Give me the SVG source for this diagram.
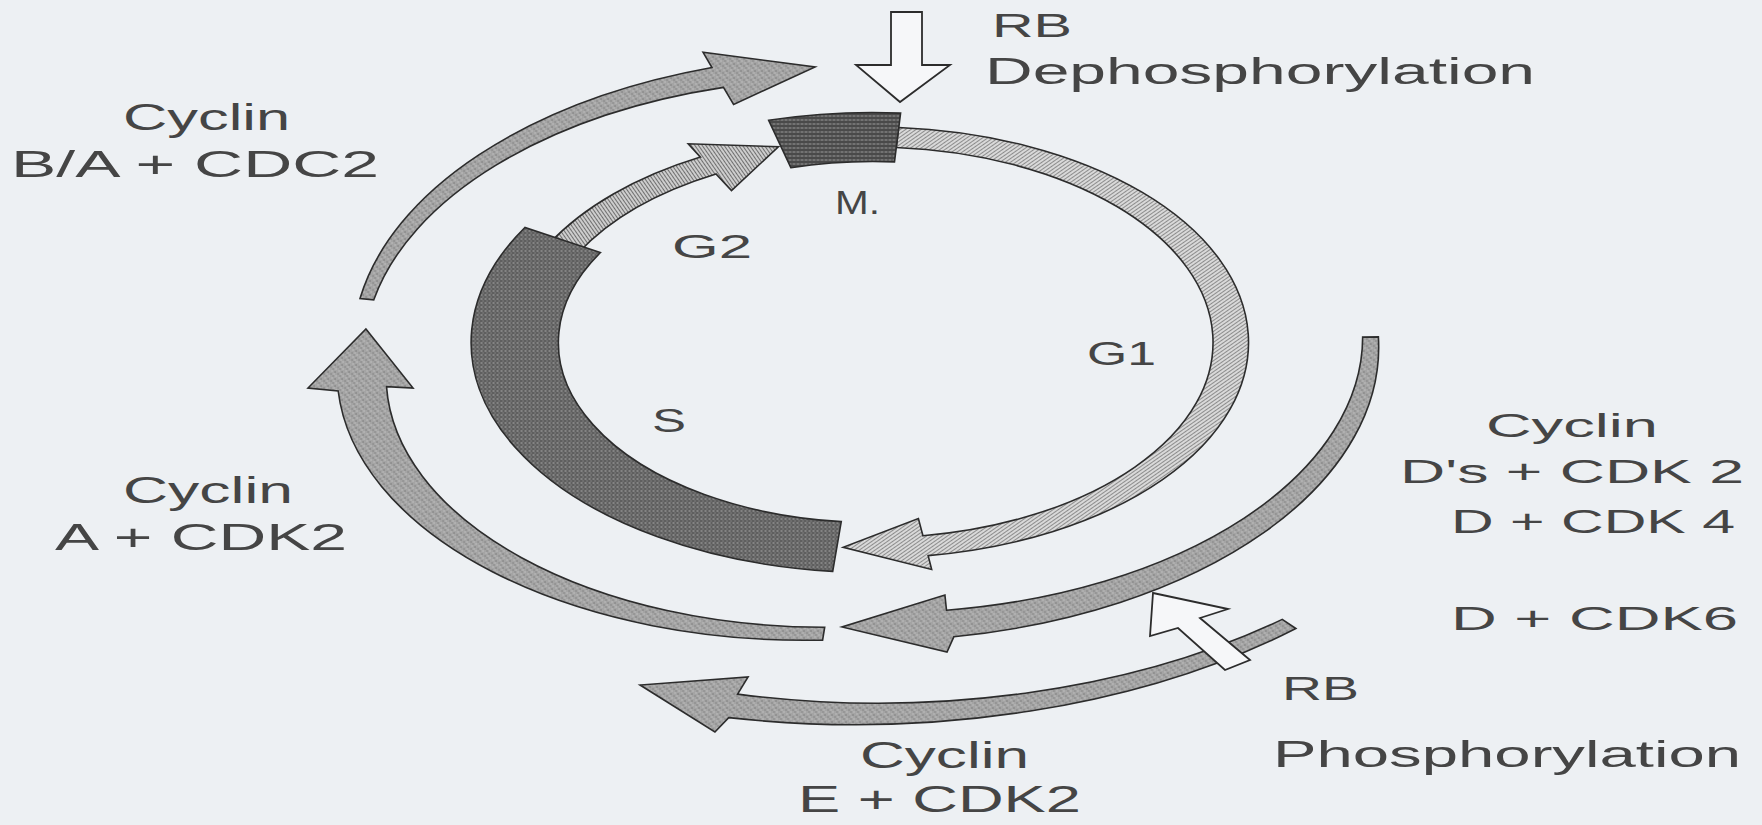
<svg xmlns="http://www.w3.org/2000/svg" width="1762" height="825" viewBox="0 0 1762 825">
<defs>
<pattern id="pG1" width="3" height="3" patternUnits="userSpaceOnUse" patternTransform="scale(0.573 1) rotate(55)">
  <rect width="3" height="3" fill="#d9d9d9"/>
  <rect width="1" height="3" fill="#8c8c8c"/>
</pattern>
<pattern id="pG2" width="3" height="3" patternUnits="userSpaceOnUse" patternTransform="scale(0.573 1) rotate(-35)">
  <rect width="3" height="3" fill="#cdcdcd"/>
  <rect width="1" height="3" fill="#6f6f6f"/>
</pattern>
<pattern id="pS" width="4" height="4" patternUnits="userSpaceOnUse" patternTransform="scale(0.573 1)">
  <rect width="4" height="4" fill="#5f5f5f"/>
  <rect x="0" y="0" width="2" height="1" fill="#a9a9a9"/>
  <rect x="2" y="2" width="1" height="1" fill="#9a9a9a"/>
</pattern>
<pattern id="pM" width="4" height="4" patternUnits="userSpaceOnUse" patternTransform="scale(0.573 1)">
  <rect width="4" height="4" fill="#4a4a4a"/>
  <rect x="0" y="1" width="3" height="1" fill="#9c9c9c"/>
</pattern>
<pattern id="pC" width="7" height="7" patternUnits="userSpaceOnUse" patternTransform="scale(0.573 1)">
  <rect width="7" height="7" fill="#a4a4a4"/>
  <rect x="1" y="1" width="1" height="1" fill="#5e5e5e"/>
  <rect x="4" y="3" width="1" height="1" fill="#6a6a6a"/>
  <rect x="2" y="5" width="1" height="1" fill="#d4d4d4"/>
  <rect x="5" y="0" width="1" height="1" fill="#d0d0d0"/>
  <rect x="6" y="5" width="1" height="1" fill="#707070"/>
  <rect x="0" y="3" width="1" height="1" fill="#cccccc"/>
</pattern>
<style>
.bg{fill:#edf0f3}
.band{stroke:#2c2c2c;stroke-width:1.6;vector-effect:non-scaling-stroke;stroke-linejoin:miter}
.m{fill:url(#pM)}
.s{fill:url(#pS)}
.g1{fill:url(#pG1)}
.g2{fill:url(#pG2)}
.cyc{fill:url(#pC)}
.rb{fill:#f6f7f9;stroke:#2c2c2c;stroke-width:1.8;stroke-linejoin:miter}
text{font-family:"Liberation Sans",Arial,sans-serif;font-size:36px;fill:#454545}
.sm{font-size:34px}
</style>
</defs>
<rect class="bg" x="0" y="0" width="1762" height="825"/>

<g id="connectors">
  <g transform="translate(872.5 342.5) scale(1.745 1)">
    <path id="arc-BA" class="band cyc" d="M -293.7 -43.9 A 294 294 0 0 1 -92.0 -275.0 L -97.1 -290.2 L -32.9 -275.6 L -79.6 -238.0 L -85.4 -255.1 A 278 278 0 0 0 -285.8 -42.7 Z"/>
    <path id="arc-A" class="band cyc" d="M -28.6 297.6 A 268 268 0 0 1 -306.2 48.5 L -323.5 45.5 L -290.3 -13.5 L -263.3 45.5 L -278.5 44.1 A 251 251 0 0 0 -27.4 284.7 Z"/>
    <path id="arc-D" class="band cyc" d="M 289.9 -5.6 A 294 294 0 0 1 46.6 294.3 L 42.7 309.5 L -17.5 284.5 L 41.5 252.5 L 42.4 267.7 A 276 276 0 0 0 280.9 -5.4 Z"/>
    <path id="arc-E" class="band cyc" d="M 242.6 286.0 A 380 380 0 0 1 -82.4 375.1 L -90.3 389.5 L -133.2 342.5 L -71.3 334.5 L -77.3 351.6 A 362 362 0 0 0 234.8 276.9 Z"/>
  </g>
  <polygon id="rb-dephos-arrow" class="rb" points="891,12 922,12 922,65 950,65 900,102 856,65 891,65"/>
  <polygon id="rb-phos-arrow" class="rb" points="1153,593 1228,609 1200,618 1250,660 1225,670 1178,628 1150,636"/>
</g>

<g id="node-G1">
  <g transform="translate(872.5 342.5) scale(1.745 1)">
    <path class="band g1" d="M 15.0 -215.0 A 215.5 215.5 0 0 1 31.9 213.1 L 33.9 227.0 L -16.8 204.8 L 26.3 176.0 L 28.9 193.3 A 195.5 195.5 0 0 0 13.6 -195.0 Z"/>
  </g>
  <text class="sm" x="1087" y="365" textLength="69" lengthAdjust="spacingAndGlyphs">G1</text>
</g>

<g id="node-G2">
  <g transform="translate(872.5 342.5) scale(1.745 1)">
    <path class="band g2" d="M -185.4 -98.6 A 210 210 0 0 1 -98.6 -185.4 L -105.6 -198.7 L -53.9 -195.7 L -80.8 -151.9 L -89.7 -168.6 A 191 191 0 0 0 -168.6 -89.7 Z"/>
  </g>
  <text class="sm" x="672" y="258" textLength="80" lengthAdjust="spacingAndGlyphs">G2</text>
</g>

<g id="node-S">
  <g transform="translate(872.5 342.5) scale(1.745 1)">
    <path class="band s" d="M -22.8 228.9 A 230 230 0 0 1 -199.2 -115.0 L -155.9 -90.0 A 180 180 0 0 0 -17.9 179.1 Z"/>
  </g>
  <text class="sm" x="652" y="432" textLength="34" lengthAdjust="spacingAndGlyphs">S</text>
</g>

<g id="node-M">
  <g transform="translate(872.5 342.5) scale(1.745 1)">
    <path class="band m" d="M -59.5 -222.2 A 230 230 0 0 1 16.1 -229.4 L 12.6 -180.6 A 181 181 0 0 0 -46.8 -174.8 Z"/>
  </g>
  <text class="sm" x="835" y="214" textLength="45" lengthAdjust="spacingAndGlyphs">M.</text>
</g>

<g id="label-rb-dephos">
  <text class="sm" x="992" y="37" textLength="80" lengthAdjust="spacingAndGlyphs">RB</text>
  <text x="985" y="84" textLength="550" lengthAdjust="spacingAndGlyphs">Dephosphorylation</text>
</g>

<g id="label-cyclin-ba">
  <text x="123" y="130" textLength="167" lengthAdjust="spacingAndGlyphs">Cyclin</text>
  <text x="11" y="177" textLength="368" lengthAdjust="spacingAndGlyphs">B/A + CDC2</text>
</g>

<g id="label-cyclin-a">
  <text x="123" y="503" textLength="170" lengthAdjust="spacingAndGlyphs">Cyclin</text>
  <text x="55" y="550" textLength="292" lengthAdjust="spacingAndGlyphs">A + CDK2</text>
</g>

<g id="label-cyclin-d">
  <text class="sm" x="1486" y="437" textLength="172" lengthAdjust="spacingAndGlyphs">Cyclin</text>
  <text class="sm" x="1400" y="483" textLength="344" lengthAdjust="spacingAndGlyphs">D's + CDK 2</text>
  <text class="sm" x="1451" y="533" textLength="284" lengthAdjust="spacingAndGlyphs">D + CDK 4</text>
  <text class="sm" x="1451" y="630" textLength="287" lengthAdjust="spacingAndGlyphs">D + CDK6</text>
</g>

<g id="label-rb-phos">
  <text class="sm" x="1282" y="700" textLength="77" lengthAdjust="spacingAndGlyphs">RB</text>
  <text x="1273" y="767" textLength="468" lengthAdjust="spacingAndGlyphs">Phosphorylation</text>
</g>

<g id="label-cyclin-e">
  <text x="860" y="768" textLength="169" lengthAdjust="spacingAndGlyphs">Cyclin</text>
  <text x="798" y="812" textLength="283" lengthAdjust="spacingAndGlyphs">E + CDK2</text>
</g>
</svg>
